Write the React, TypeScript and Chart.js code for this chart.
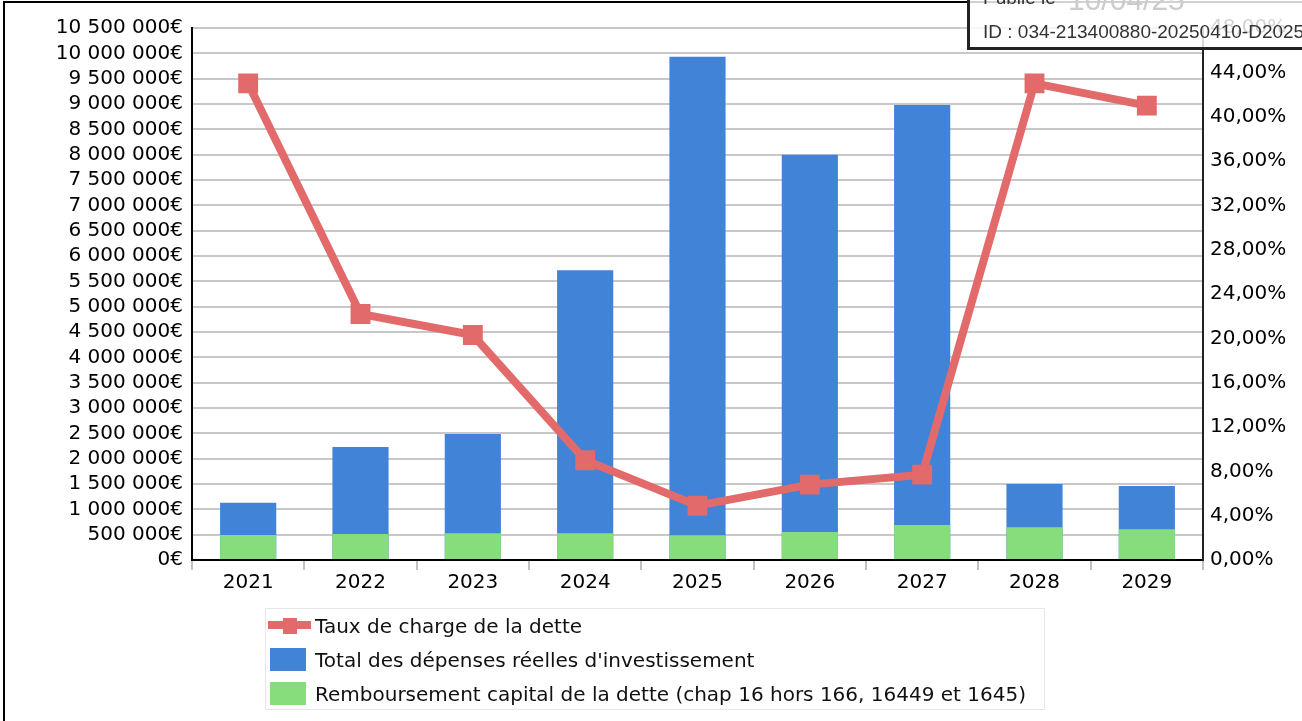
import React, { useEffect, useRef } from 'react';
import { Chart, registerables } from 'chart.js';

Chart.register(...registerables);

const years = ['2021', '2022', '2023', '2024', '2025', '2026', '2027', '2028', '2029'];
const tauxChargeDette = [43.0, 22.2, 20.3, 9.0, 4.9, 6.8, 7.7, 43.0, 41.0];
const depensesInvestissement = [1131000, 2230000, 2487000, 5720000, 9934000, 8000000, 8980000, 1500000, 1460000];
const remboursementCapital = [493000, 513000, 527000, 527000, 487000, 553000, 691000, 645000, 606000];

const leftMax = 10500000;
const leftStep = 500000;
const rightMax = 48;
const rightStep = 4;

const seriesLabels = [
  'Taux de charge de la dette',
  "Total des dépenses réelles d'investissement",
  'Remboursement capital de la dette (chap 16 hors 166, 16449 et 1645)',
];

const RED = '#e36a6a';
const BLUE = '#4183d7';
const GREEN = '#87dd7b';
const FONT = "'DejaVu Sans', sans-serif";

function formatEuro(v: number): string {
  return Math.round(v).toString().replace(/\B(?=(\d{3})+(?!\d))/g, ' ') + '€';
}
function formatPct(v: number): string {
  return v.toFixed(2).replace('.', ',') + '%';
}

export default function App() {
  const canvasRef = useRef<HTMLCanvasElement | null>(null);

  useEffect(() => {
    if (!canvasRef.current) return;
    const chart = new Chart(canvasRef.current, {
      type: 'bar',
      data: {
        labels: years,
        datasets: [
          {
            type: 'line',
            label: seriesLabels[0],
            data: tauxChargeDette,
            yAxisID: 'y1',
            borderColor: RED,
            backgroundColor: RED,
            borderWidth: 8,
            pointStyle: 'rect',
            pointRadius: 13,
            pointBorderWidth: 1.5,
            pointBackgroundColor: RED,
            pointBorderColor: RED,
            tension: 0,
            order: 0,
          } as any,
          {
            type: 'bar',
            label: seriesLabels[2],
            data: remboursementCapital,
            yAxisID: 'y',
            backgroundColor: GREEN,
            borderWidth: 0,
            barPercentage: 0.5,
            categoryPercentage: 1,
            grouped: false,
            order: 1,
          } as any,
          {
            type: 'bar',
            label: seriesLabels[1],
            data: depensesInvestissement,
            yAxisID: 'y',
            backgroundColor: BLUE,
            borderWidth: 0,
            barPercentage: 0.5,
            categoryPercentage: 1,
            grouped: false,
            order: 2,
          } as any,
        ],
      },
      options: {
        responsive: false,
        animation: false,
        devicePixelRatio: 1,
        layout: { padding: { left: 0, right: 0, top: 28, bottom: 121 } },
        plugins: {
          legend: { display: false },
          tooltip: { enabled: false },
        },
        scales: {
          x: {
            offset: true,
            grid: {
              offset: true,
              drawOnChartArea: false,
              drawTicks: true,
              tickLength: 10,
              color: '#c2c2c2',
              lineWidth: 2,
            },
            border: { display: true, color: '#000', width: 2 },
            ticks: { color: '#000', font: { family: FONT, size: 20 }, padding: 1, maxRotation: 0 },
            afterFit: (s: any) => { s.height = 40; },
          },
          y: {
            position: 'left',
            min: 0,
            max: leftMax,
            grid: { color: '#c8c8c8', lineWidth: 2, drawTicks: false },
            border: { display: true, color: '#000', width: 2 },
            ticks: {
              stepSize: leftStep,
              color: '#000',
              font: { family: FONT, size: 20 },
              padding: 9,
              autoSkip: false,
              callback: (v: any) => formatEuro(Number(v)),
            },
            afterFit: (s: any) => { s.width = 192; },
          },
          y1: {
            position: 'right',
            min: 0,
            max: rightMax,
            grid: { drawOnChartArea: false, drawTicks: false },
            border: { display: true, color: '#222', width: 2 },
            ticks: {
              stepSize: rightStep,
              color: '#000',
              font: { family: FONT, size: 20 },
              padding: 7,
              autoSkip: false,
              callback: (v: any) => formatPct(Number(v)),
            },
            afterFit: (s: any) => { s.width = 99; },
          },
        },
      } as any,
    });
    return () => chart.destroy();
  }, []);

  const rowStyle = (top: number): React.CSSProperties => ({
    position: 'absolute',
    left: 314 - 265,
    top,
    fontFamily: FONT,
    fontSize: 20,
    lineHeight: '24px',
    color: '#111',
    whiteSpace: 'nowrap',
  });

  return (
    <div style={{ position: 'absolute', left: 0, top: 0, width: 1302, height: 721, overflow: 'hidden', background: '#fff' }}>
      <canvas ref={canvasRef} width={1302} height={721} style={{ position: 'absolute', left: 0, top: 0, width: 1302, height: 721 }} />
      <div style={{ position: 'absolute', left: 3, top: 1, width: 1400, height: 800, borderLeft: '2px solid #000', borderTop: '2px solid #000', pointerEvents: 'none' }} />

      <div style={{ position: 'absolute', left: 265, top: 608, width: 780, height: 102, border: '1px solid #e6e6e6', boxSizing: 'border-box' }}>
        <div style={{ position: 'absolute', left: 2, top: 621 - 608 - 1, width: 43, height: 8, background: RED }} />
        <div style={{ position: 'absolute', left: 290 - 265 - 1 - 7, top: 618 - 608 - 1, width: 14, height: 16, background: RED }} />
        <div style={rowStyle(626 - 608 - 1 - 12)}>{seriesLabels[0]}</div>

        <div style={{ position: 'absolute', left: 270 - 265 - 1, top: 648 - 608 - 1, width: 36, height: 23, background: BLUE }} />
        <div style={rowStyle(660 - 608 - 1 - 12)}>{seriesLabels[1]}</div>

        <div style={{ position: 'absolute', left: 270 - 265 - 1, top: 682 - 608 - 1, width: 36, height: 23, background: GREEN }} />
        <div style={rowStyle(694 - 608 - 1 - 12)}>{seriesLabels[2]}</div>
      </div>

      <div style={{ position: 'absolute', left: 967, top: -30, width: 400, height: 80, border: '3px solid #222', boxSizing: 'border-box', background: 'rgba(255,255,255,0.82)' }} />
      <div style={{ position: 'absolute', left: 983, top: -12, fontFamily: "'Liberation Sans', Arial, sans-serif", fontSize: 19, lineHeight: '19px', color: '#333', whiteSpace: 'nowrap' }}>Publié le</div>
      <div style={{ position: 'absolute', left: 1068, top: -15, fontFamily: "'Liberation Sans', Arial, sans-serif", fontSize: 30, lineHeight: '30px', color: '#cccccc', whiteSpace: 'nowrap' }}>10/04/25</div>
      <div style={{ position: 'absolute', left: 983, top: 22, fontFamily: "'Liberation Sans', Arial, sans-serif", fontSize: 19, lineHeight: '19px', color: '#333', whiteSpace: 'nowrap' }}>ID : 034-213400880-20250410-D2025_</div>
    </div>
  );
}
